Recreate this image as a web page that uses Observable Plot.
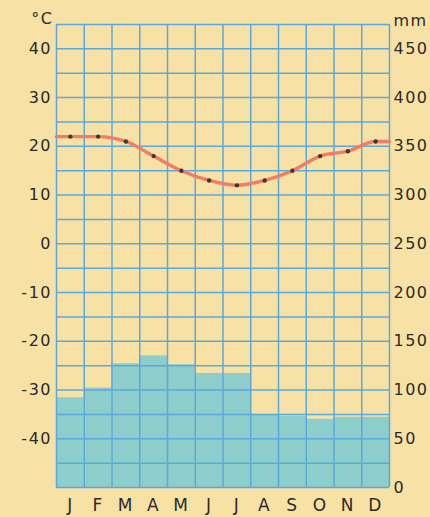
<!DOCTYPE html>
<html><head><meta charset="utf-8">
<script src="https://cdn.jsdelivr.net/npm/d3@7"></script>
<script src="https://cdn.jsdelivr.net/npm/@observablehq/plot@0.6"></script>
<style>html,body{margin:0;padding:0;background:#f8e1a5;} svg{display:block;}</style>
</head><body><div id="chart"></div>
<script>
const months = ["J","F","M","A","M","J","J","A","S","O","N","D"];
const temperature = [22,22,21,18,15,13,12,13,15,18,19,21];
const precipitation = [92,102,127,135,126,117,117,75,73,70,72,72];
const tempTicks = [-40,-30,-20,-10,0,10,20,30,40];
const precipTicks = [0,50,100,150,200,250,300,350,400,450];

const mmToT = mm => mm / 5 - 50;
const tToMm = t => (t + 50) * 5;

const bars = precipitation.map((p, i) => ({i, p}));
const pts = temperature.map((t, i) => ({x: i + 0.5, t}));
const linePts = [{x: 0, t: temperature[0]}, ...pts, {x: 12, t: temperature[11]}];

const grid = "#5ba9dc";
const chart = Plot.plot({
  width: 430, height: 517,
  marginLeft: 56, marginRight: 41, marginTop: 24, marginBottom: 30,
  style: {background: "#f8e1a5", fontFamily: "DejaVu Sans", fontSize: "16px", color: "#2a2a2a", letterSpacing: "1.5px"},
  x: {domain: [0, 12], axis: null},
  y: {domain: [-50, 45], axis: null},
  marks: [
    Plot.rect(bars, {x1: d => d.i, x2: d => d.i + 1, y1: -50, y2: d => mmToT(d.p), fill: "#8dcdcc"}),
    Plot.ruleY(d3.range(-50, 46, 5), {stroke: grid, strokeWidth: 1.5}),
    Plot.ruleX(d3.range(0, 13), {stroke: grid, strokeWidth: 1.5}),
    Plot.line(linePts, {x: "x", y: "t", stroke: "#f27c66", strokeWidth: 3.4, curve: "monotone-x"}),
    Plot.dot(pts, {x: "x", y: "t", r: 2.2, fill: "#3a3a3a", stroke: null}),
    Plot.axisY(tempTicks, {anchor: "left", tickSize: 0, tickPadding: 4.5, label: null, fontSize: 16, tickFormat: d => String(d)}),
    Plot.axisY(precipTicks.map(mmToT), {anchor: "right", tickSize: 0, tickPadding: 4, label: null, fontSize: 16, tickFormat: d => String(Math.round(tToMm(d)))}),
    Plot.axisX(d3.range(12).map(i => i + 0.5), {anchor: "bottom", tickSize: 0, tickPadding: 11, label: null, fontSize: 17, tickFormat: d => months[Math.floor(d)]}),
    Plot.text(["°C"], {text: d => d, frameAnchor: "top-left", dx: -3, dy: -1, textAnchor: "end", lineAnchor: "bottom", fontSize: 16}),
    Plot.text(["mm"], {text: d => d, frameAnchor: "top-right", dx: 4, dy: 1, textAnchor: "start", lineAnchor: "bottom", fontSize: 16})
  ]
});
document.getElementById("chart").append(chart);
</script>
</body></html>
